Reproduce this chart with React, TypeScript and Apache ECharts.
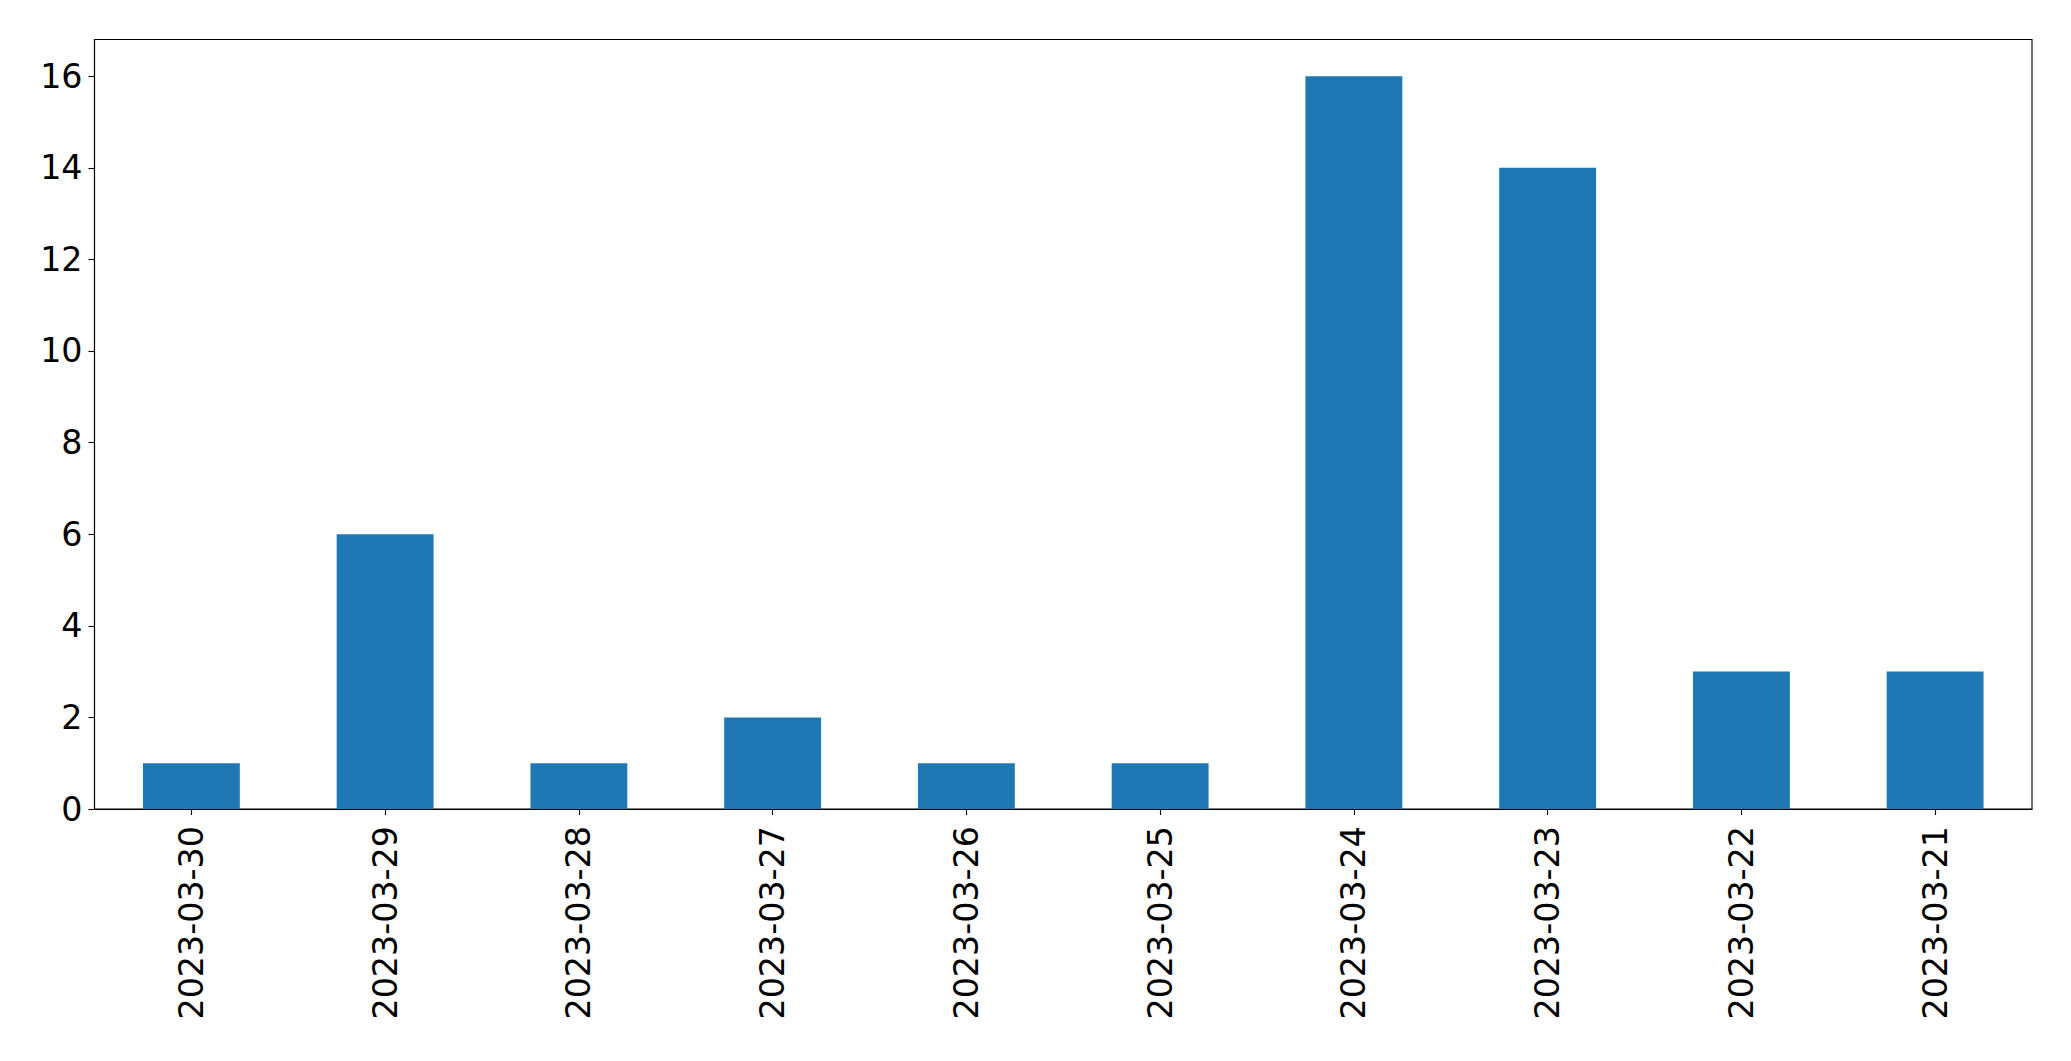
import React, { useEffect, useRef } from "react";
import * as echarts from "echarts";

const categories = [
  "2023-03-30",
  "2023-03-29",
  "2023-03-28",
  "2023-03-27",
  "2023-03-26",
  "2023-03-25",
  "2023-03-24",
  "2023-03-23",
  "2023-03-22",
  "2023-03-21",
];
const counts = [1, 6, 1, 2, 1, 1, 16, 14, 3, 3];
const yTicks = [0, 2, 4, 6, 8, 10, 12, 14, 16];

export default function App() {
  const ref = useRef<HTMLDivElement>(null);
  useEffect(() => {
    if (!ref.current) return;
    const chart = echarts.init(ref.current, undefined, { renderer: "svg" });
    const font = "DejaVu Sans";
    chart.setOption({
      animation: false,
      backgroundColor: "#ffffff",
      grid: {
        left: 94.5,
        right: 39,
        top: 39.5,
        bottom: 252,
        show: true,
        borderColor: "#000000",
        borderWidth: 1.1,
        backgroundColor: "transparent",
      },
      xAxis: {
        type: "category",
        data: categories,
        boundaryGap: true,
        axisLine: { show: true, lineStyle: { color: "#000", width: 1.1 } },
        axisTick: {
          show: true,
          alignWithLabel: true,
          length: 6,
          lineStyle: { color: "#000", width: 1.1 },
        },
        axisLabel: {
          rotate: 90,
          interval: 0,
          margin: 17,
          fontSize: 33.3,
          fontFamily: font,
          color: "#000",
        },
        splitLine: { show: false },
      },
      yAxis: {
        type: "value",
        min: 0,
        max: 16.8,
        interval: 2,
        axisLine: { show: true, lineStyle: { color: "#000", width: 1.1 } },
        axisTick: {
          show: true,
          length: 6,
          customValues: yTicks,
          lineStyle: { color: "#000", width: 1.1 },
        },
        axisLabel: {
          customValues: yTicks,
          margin: 12,
          fontSize: 33.3,
          fontFamily: font,
          color: "#000",
        },
        splitLine: { show: false },
      },
      series: [
        {
          type: "bar",
          data: counts,
          barWidth: "50%",
          itemStyle: { color: "#1f77b4" },
        },
      ],
    });
    return () => chart.dispose();
  }, []);
  return (
    <div
      ref={ref}
      style={{ position: "fixed", left: 0, top: 0, width: 2071, height: 1061 }}
    />
  );
}
